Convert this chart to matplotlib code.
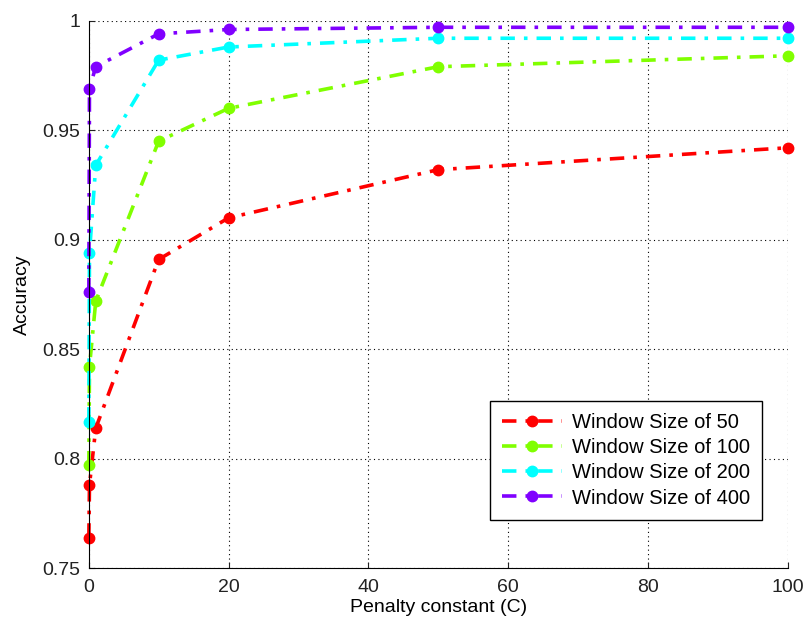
import matplotlib
matplotlib.use('Agg')
import matplotlib.pyplot as plt

plt.rcParams['font.family'] = ['Liberation Sans', 'DejaVu Sans']

# valores
penalty_c = [0.01, 0.1, 1, 10, 20, 50, 100]
acc_50 = [0.764, 0.788, 0.814, 0.891, 0.910, 0.932, 0.942]
acc_100 = [0.797, 0.842, 0.872, 0.945, 0.960, 0.979, 0.984]
acc_200 = [0.817, 0.894, 0.934, 0.982, 0.988, 0.992, 0.992]
acc_400 = [0.876, 0.969, 0.979, 0.994, 0.996, 0.997, 0.997]

series = [
    (acc_50, '#ff0000', 'Window Size of 50'),
    (acc_100, '#80ff00', 'Window Size of 100'),
    (acc_200, '#00ffff', 'Window Size of 200'),
    (acc_400, '#8000ff', 'Window Size of 400'),
]

fig = plt.figure(figsize=(8.07, 6.28), dpi=100)
ax = fig.add_axes([0.110, 0.095, 0.866, 0.872])

for vals, col, lab in series:
    ax.plot(penalty_c, vals, color=col, linestyle=(0, (4, 2.5, 1, 2.5)),
            linewidth=2.6, marker='o', markersize=7.5, label=lab, clip_on=False)

ax.set_xlim(0, 100)
ax.set_ylim(0.75, 1)
ax.set_xticks([0, 20, 40, 60, 80, 100])
ax.set_yticks([0.75, 0.8, 0.85, 0.9, 0.95, 1])
ax.set_yticklabels(['0.75', '0.8', '0.85', '0.9', '0.95', '1'])
ax.grid(True, color='k', linestyle=(0, (1, 3)), linewidth=0.8)
ax.spines['top'].set_visible(False)
ax.spines['right'].set_visible(False)
ax.tick_params(direction='in', length=4, labelsize=14, colors='#222222')
ax.tick_params(axis='y', pad=6)
ax.tick_params(axis='x', pad=8)
ax.set_xlabel('Penalty constant (C)', fontsize=14, labelpad=2)
ax.set_ylabel('Accuracy', fontsize=14, labelpad=8)

leg = ax.legend(loc='lower right', bbox_to_anchor=(0.964, 0.089), borderaxespad=0,
                fontsize=14.5, fancybox=False, framealpha=1, edgecolor='k',
                handlelength=3.0, borderpad=0.6, labelspacing=0.3, handletextpad=0.5)
leg.get_frame().set_linewidth(1.0)

fig.savefig('out.png', dpi=100)
